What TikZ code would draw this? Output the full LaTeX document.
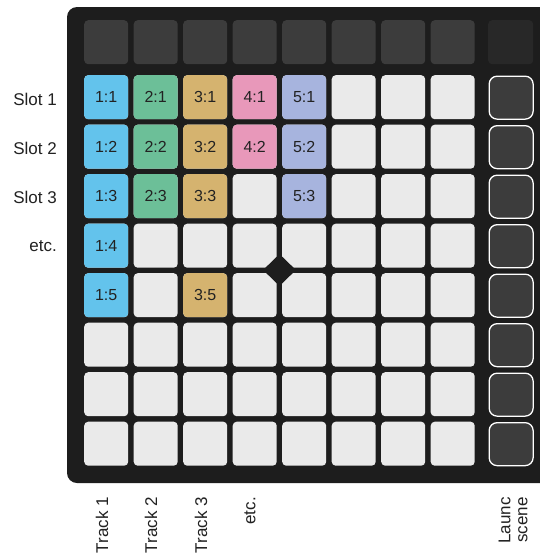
\documentclass[tikz,border=0pt]{standalone}
\usepackage{fontspec}
\setmainfont{Liberation Sans}
\usetikzlibrary{shapes.geometric}
\definecolor{cblue}{HTML}{63C3EC}
\definecolor{cgreen}{HTML}{6CBF98}
\definecolor{ctan}{HTML}{D5B36F}
\definecolor{cpink}{HTML}{E898BA}
\definecolor{clav}{HTML}{A7B4DE}
\definecolor{clight}{HTML}{EAEAEA}
\definecolor{cboard}{HTML}{1D1D1D}
\definecolor{cdark}{HTML}{3C3C3C}
\definecolor{cdarker}{HTML}{282828}
\definecolor{ctext}{HTML}{222222}
\tikzset{
  pad/.style={rectangle, rounded corners=4pt, minimum width=44pt, minimum height=44pt, inner sep=0pt, anchor=north west, text=ctext, font=\fontsize{16}{18}\selectfont},
  scenebtn/.style={rectangle, rounded corners=8pt, minimum width=44pt, minimum height=43pt, inner sep=0pt, anchor=north west, fill=cdark, draw=white, line width=1.3pt},
  rowlbl/.style={anchor=east, text=ctext, font=\fontsize{17}{20}\selectfont, inner sep=0pt},
  collbl/.style={anchor=east, rotate=90, text=ctext, font=\fontsize{17}{17}\selectfont, inner sep=0pt},
}
\begin{document}
\begin{tikzpicture}[x=1pt,y=-1pt]
\useasboundingbox (0,0) rectangle (540,558);
\clip (0,0) rectangle (540,558);
\fill[white] (0,0) rectangle (540,558);
% board
\fill[cboard, rounded corners=10pt] (67,7) rectangle (560,483);
% top row
\foreach \i in {0,...,7}{
  \node[pad, fill=cdark] (t\i) at ({84+49.5*\i},20) {};
}
\node[pad, fill=cdarker, minimum width=45pt] (tscene) at (488,20) {};
% grid of light pads
\foreach \i in {0,...,7}{
  \foreach \j in {0,...,7}{
    \node[pad, fill=clight] (c\i\j) at ({84+49.5*\i},{75+49.5*\j}) {};
  }
}
% coloured pads
\foreach \j/\lbl in {0/1:1,1/1:2,2/1:3,3/1:4,4/1:5}{
  \node[pad, fill=cblue] (a0\j) at (84,{75+49.5*\j}) {\lbl};
}
\foreach \j/\lbl in {0/2:1,1/2:2,2/2:3}{
  \node[pad, fill=cgreen] (a1\j) at (133.5,{75+49.5*\j}) {\lbl};
}
\foreach \j/\lbl in {0/3:1,1/3:2,2/3:3,4/3:5}{
  \node[pad, fill=ctan] (a2\j) at (183,{75+49.5*\j}) {\lbl};
}
\foreach \j/\lbl in {0/4:1,1/4:2}{
  \node[pad, fill=cpink] (a3\j) at (232.5,{75+49.5*\j}) {\lbl};
}
\foreach \j/\lbl in {0/5:1,1/5:2,2/5:3}{
  \node[pad, fill=clav] (a4\j) at (282,{75+49.5*\j}) {\lbl};
}
% scene buttons
\foreach \j in {0,...,7}{
  \node[scenebtn] (s\j) at (488.5,{75.5+49.5*\j}) {};
}
% diamond
\node[diamond, fill=cboard, minimum width=33pt, minimum height=32pt, inner sep=0pt] (dia) at (279.5,270) {};
% row labels
\node[rowlbl] (l1) at (57,99) {Slot 1};
\node[rowlbl] (l2) at (57,148) {Slot 2};
\node[rowlbl] (l3) at (57,197.5) {Slot 3};
\node[rowlbl] (l4) at (57,246) {etc.};
% column labels
\node[collbl] (k1) at (102,497) {Track 1};
\node[collbl] (k2) at (151,497) {Track 2};
\node[collbl] (k3) at (201,497) {Track 3};
\node[collbl] (k4) at (250,497) {etc.};
\node[collbl, align=right, font=\fontsize{17}{17}\selectfont] (k5) at (513,497) {Launc\\scene};
\end{tikzpicture}
\end{document}
